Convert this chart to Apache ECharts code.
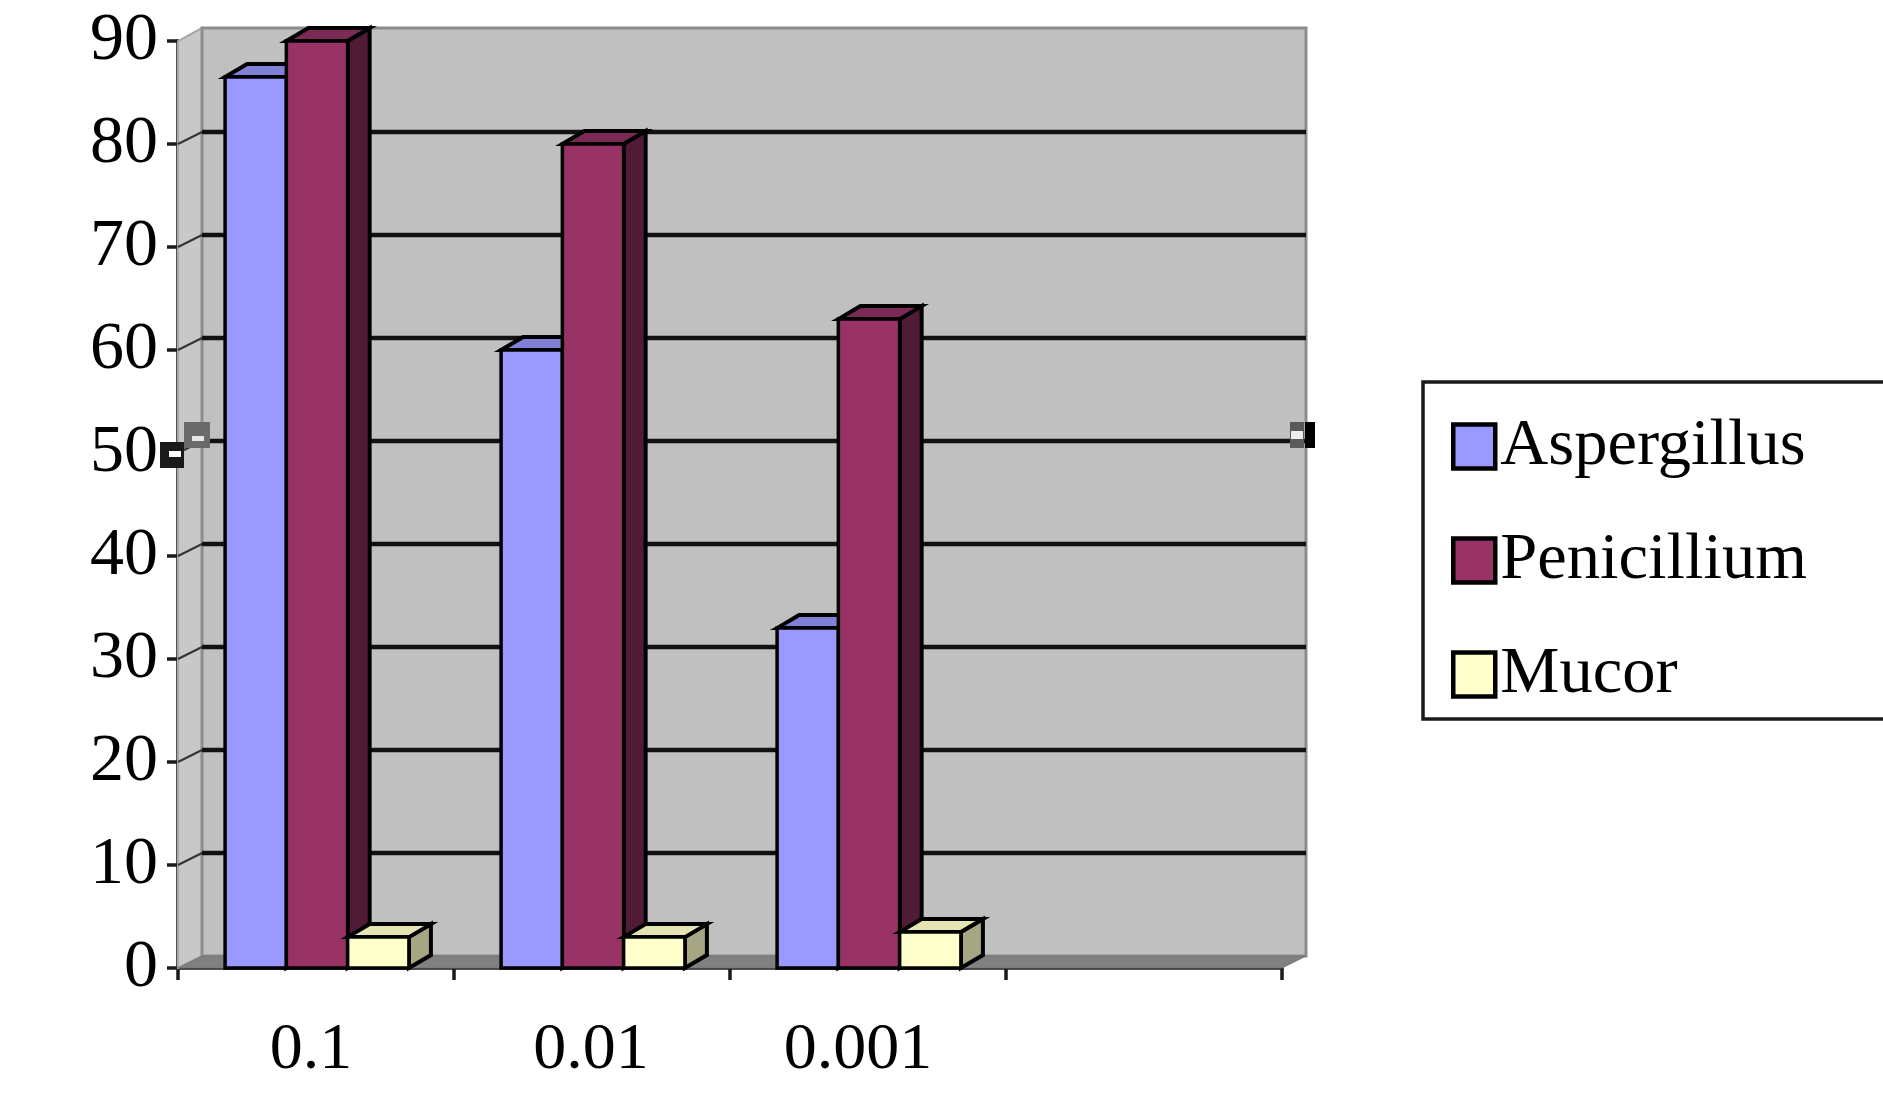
<!DOCTYPE html>
<html><head><meta charset="utf-8">
<style>html,body{margin:0;padding:0;background:#fff}#c{width:1883px;height:1094px;filter:blur(0.6px)}</style>
<script src="https://cdn.jsdelivr.net/npm/echarts@6/dist/echarts.min.js"></script>
</head><body><div id="c"></div>
<script>
const categories = ['0.1', '0.01', '0.001', ''];
const yTicks = [10, 20, 30, 40, 50, 60, 70, 80];
const aspergillus = [86.5, 60, 33];
const penicillium = [90, 80, 63];
const mucor = [3, 3, 3.5];
const seriesNames = ['Aspergillus', 'Penicillium', 'Mucor'];
const frontColors = ['#9999FF', '#993366', '#FFFFCC'];
const topColors = ['#8080D6', '#7A2A55', '#E4E4B4'];
const sideColors = ['#5C5C99', '#4F1B36', '#A6A684'];

const FONT = '"Liberation Serif","Times New Roman",serif';
const WALL_DX = 24, WALL_DY = -12, BAR_DX = 22, BAR_DY = -13;
const labelPad = [10, 2, 20, 0];

function poly(points, fill, stroke, lw) {
  return {type: 'polygon', shape: {points}, style: {fill, stroke, lineWidth: lw, lineJoin: 'miter'}};
}
function seg(x1, y1, x2, y2, stroke, lw) {
  return {type: 'line', shape: {x1, y1, x2, y2}, style: {stroke, lineWidth: lw, fill: null}};
}
function wallItem(params, api) {
  const cs = params.coordSys;
  const x0 = cs.x, x1 = cs.x + cs.width, yb = cs.y + cs.height, yt = cs.y;
  const dx = WALL_DX, dy = WALL_DY;
  return {type: 'group', children: [
    poly([[x0, yb], [x0 + dx, yb + dy], [x0 + dx, yt + dy - 1], [x0, yt]], '#C8C8C8', '#A8A8A8', 2),
    poly([[x0 + dx, yb + dy], [x0 + dx, yt + dy - 1], [x1 + dx, yt + dy - 1], [x1 + dx, yb + dy]], '#C0C0C0', '#8C8C8C', 3),
    poly([[x0, yb], [x0 + dx, yb + dy], [x1 + dx, yb + dy], [x1, yb]], '#808080', '#777777', 1)
  ]};
}
function gridItem(params, api) {
  const cs = params.coordSys;
  const y = api.coord([0, api.value(0)])[1];
  return {type: 'group', children: [
    seg(cs.x, y, cs.x + WALL_DX, y + WALL_DY, '#333333', 2),
    seg(cs.x + WALL_DX, y + WALL_DY, cs.x + cs.width + WALL_DX, y + WALL_DY, '#111111', 4.5)
  ]};
}
function handleItem(params, api) {
  const cs = params.coordSys;
  const y = api.coord([0, 50])[1];
  const box = (x, yy, w, h, c) => ({type: 'rect', shape: {x, y: yy, width: w, height: h}, style: {fill: c}});
  const xl = cs.x, xr = cs.x + cs.width + WALL_DX;
  return {type: 'group', children: [
    box(xl - 18, y - 11, 24, 26, '#1a1a1a'), box(xl - 9, y - 2, 12, 6, '#ffffff'),
    box(xl + 6, y - 31, 26, 26, '#6a6a6a'), box(xl + 14, y - 17, 12, 5, '#e6e6e6'),
    box(xr - 16, y - 31, 14, 26, '#5a5a5a'), box(xr - 15, y - 22, 12, 8, '#eeeeee'),
    box(xr - 1, y - 31, 10, 26, '#000000')
  ]};
}
function barItem(params, api) {
  const si = params.seriesIndex - 3;
  const band = api.size([1, 0])[0];
  const w = band * 0.222;
  const base = api.coord([api.value(0), 0]);
  const top = api.coord([api.value(0), api.value(1)]);
  const xl = base[0] + (si - 1.5) * w + 1, xr = xl + w, yb = base[1], yt = top[1];
  const dx = BAR_DX, dy = BAR_DY;
  return {type: 'group', children: [
    poly([[xr, yb], [xr, yt], [xr + dx, yt + dy], [xr + dx, yb + dy]], sideColors[si], '#000', 4),
    poly([[xl, yt], [xl + dx, yt + dy], [xr + dx, yt + dy], [xr, yt]], topColors[si], '#000', 4),
    poly([[xl, yb], [xl, yt], [xr, yt], [xr, yb]], frontColors[si], '#000', 3.5)
  ]};
}
const values = [aspergillus, penicillium, mucor];
const option = {
  animation: false,
  backgroundColor: '#ffffff',
  grid: {left: 178, right: 601, top: 41, bottom: 126, containLabel: false},
  xAxis: {
    type: 'category',
    data: categories.map((c, i) => ({value: c, textStyle: {padding: [0, labelPad[i], 0, 0]}})),
    boundaryGap: true,
    axisLine: {show: true, lineStyle: {color: '#1a1a1a', width: 3.5}},
    axisTick: {show: true, alignWithLabel: false, length: 12, lineStyle: {color: '#1a1a1a', width: 3.5}},
    axisLabel: {color: '#000', fontFamily: FONT, fontSize: 66, margin: 50, interval: 0},
    splitLine: {show: false}
  },
  yAxis: {
    type: 'value', min: 0, max: 90, interval: 10,
    axisLine: {show: true, lineStyle: {color: '#1a1a1a', width: 3.5}},
    axisTick: {show: true, length: 11, lineStyle: {color: '#1a1a1a', width: 3.5}},
    axisLabel: {color: '#000', fontFamily: FONT, fontSize: 68, margin: 20},
    splitLine: {show: false}
  },
  legend: {
    data: seriesNames, orient: 'vertical', left: 1423, top: 382, icon: 'rect',
    itemWidth: 42, itemHeight: 44, itemGap: 47,
    backgroundColor: '#fff', borderColor: '#1a1a1a', borderWidth: 3.5,
    padding: [31, 90, 11, 28],
    selectedMode: false,
    itemStyle: {borderColor: '#000', borderWidth: 4.5},
    textStyle: {color: '#000', fontFamily: FONT, fontSize: 66.5}
  },
  series: [
    {type: 'custom', name: 'wall', silent: true, clip: false, z: 1, coordinateSystem: 'cartesian2d', data: [[0]], renderItem: wallItem},
    {type: 'custom', name: 'grid', silent: true, clip: false, z: 2, coordinateSystem: 'cartesian2d', data: yTicks.map(v => [v]), encode: {y: 0}, renderItem: gridItem},
    {type: 'custom', name: 'handles', silent: true, clip: false, z: 9, coordinateSystem: 'cartesian2d', data: [[50]], encode: {y: 0}, renderItem: handleItem}
  ].concat(seriesNames.map((n, i) => ({
    type: 'custom', name: n, silent: true, clip: false, z: 3 + i, coordinateSystem: 'cartesian2d',
    itemStyle: {color: frontColors[i]},
    encode: {x: 0, y: 1},
    data: values[i].map((v, c) => [c, v]),
    renderItem: barItem
  })))
};
const chart = echarts.init(document.getElementById('c'), null, {renderer: 'canvas', width: 1883, height: 1094});
chart.setOption(option);
</script></body></html>
